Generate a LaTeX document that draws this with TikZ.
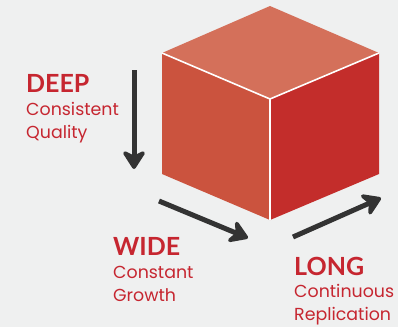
\documentclass[tikz,border=0pt]{standalone}
\usepackage{fontspec}
\setmainfont{Lato}
\newfontfamily\subfont{Poppins}
\usetikzlibrary{arrows.meta}
\definecolor{bg}{HTML}{EFF0F0}
\definecolor{ctop}{HTML}{D4705A}
\definecolor{cleft}{HTML}{CB533E}
\definecolor{cright}{HTML}{C32D2B}
\definecolor{txtred}{HTML}{C62630}
\definecolor{arr}{HTML}{333333}
\tikzset{
  bigarrow/.style={draw=arr, line width=5pt, -{Stealth[length=22pt,width=28pt,inset=7pt,round]}},
  head/.style={anchor=base west, inner sep=0pt, text=txtred, font=\fontsize{25}{25}\selectfont\bfseries},
  sub/.style={anchor=base west, inner sep=0pt, text=txtred, font=\subfont\fontsize{17.4}{23}\selectfont, align=left},
  edge/.style={draw=white, line width=1.6pt}
}
\begin{document}
\begin{tikzpicture}[x=1pt,y=-1pt]
\useasboundingbox[fill=bg] (0,0) rectangle (398,327);
% cube vertices
\coordinate (T) at (270,6);
\coordinate (L) at (162,53);
\coordinate (R) at (379,53);
\coordinate (C) at (270,99);
\coordinate (BL) at (162,174);
\coordinate (B) at (270,220);
\coordinate (BR) at (379,174);
\fill[ctop] (T) -- (R) -- (C) -- (L) -- cycle;
\fill[cleft] (L) -- (C) -- (B) -- (BL) -- cycle;
\fill[cright] (C) -- (R) -- (BR) -- (B) -- cycle;
\draw[edge] (L) -- (C) -- (R);
\draw[edge] (C) -- (B);
% arrows
\coordinate (d1) at (134,70);
\coordinate (d2) at (134,169);
\coordinate (w1) at (159,201);
\coordinate (w2) at (248,238);
\coordinate (l1) at (293,237);
\coordinate (l2) at (381,198);
\draw[bigarrow] (d1) -- (d2);
\draw[bigarrow] (w1) -- (w2);
\draw[bigarrow] (l1) -- (l2);
% texts
\node[head] (deep) at (26,92) {DEEP};
\node[sub] (deeps) at (26,138) {Consistent\\Quality};
\node[head] (wide) at (113,255) {WIDE};
\node[sub] (wides) at (113,301) {Constant\\Growth};
\node[head] (long) at (294,275) {LONG};
\node[sub] (longs) at (294,320) {Continuous\\Replication};
\end{tikzpicture}
\end{document}
